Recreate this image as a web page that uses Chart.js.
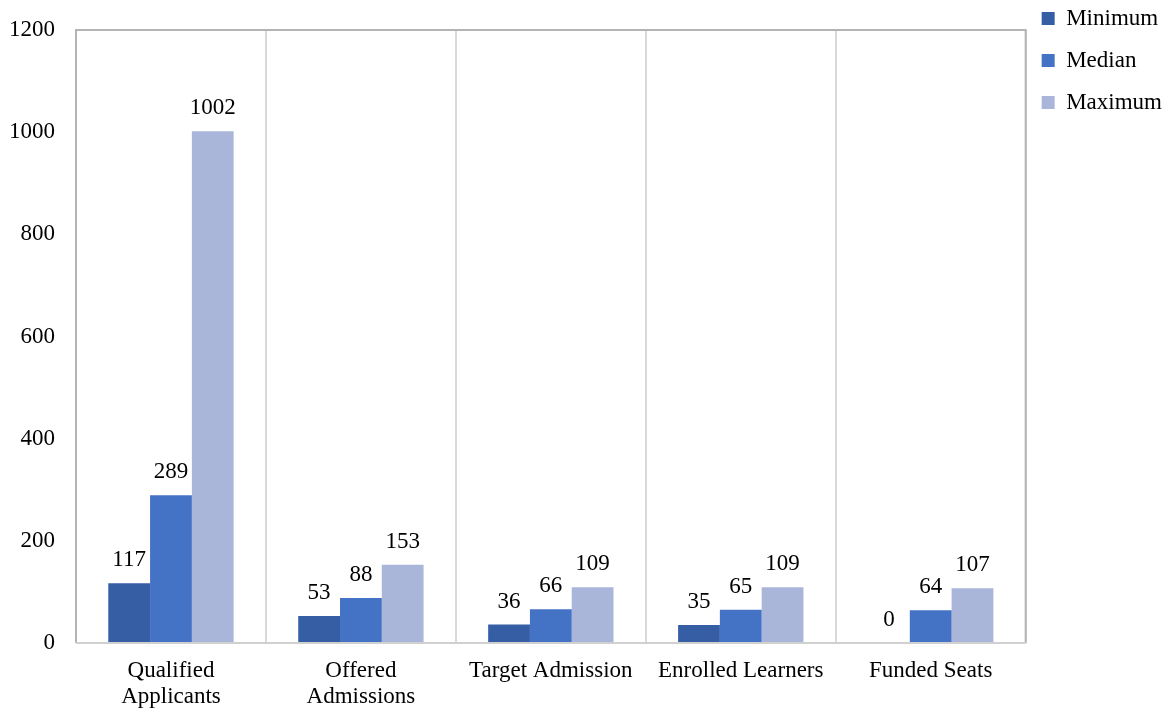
<!DOCTYPE html>
<html lang="en">
<head>
    <meta charset="UTF-8">
    <title>Admissions Summary</title>
    <script src="https://cdn.jsdelivr.net/npm/chart.js"></script>
    <style>
        html, body { margin: 0; padding: 0; background: #fff; }
        #wrap { width: 1166px; height: 712px; }
    </style>
</head>
<body>
    <div id="wrap"><canvas id="admChart"></canvas></div>

    <script>
        const categories = [['Qualified', 'Applicants'], ['Offered', 'Admissions'], 'Target Admission', 'Enrolled Learners', 'Funded Seats'];
        const minimumVals = [117, 53, 36, 35, 0];
        const medianVals = [289, 88, 66, 65, 64];
        const maximumVals = [1002, 153, 109, 109, 107];
        const yTicks = [0, 200, 400, 600, 800, 1000, 1200];

        const serif = '"Liberation Serif", "Times New Roman", serif';

        // value labels above each bar
        const barLabels = {
            id: 'barLabels',
            afterDatasetsDraw(chart) {
                const ctx = chart.ctx;
                ctx.save();
                ctx.font = '23px ' + serif;
                ctx.fillStyle = '#000';
                ctx.textAlign = 'center';
                ctx.textBaseline = 'alphabetic';
                chart.data.datasets.forEach((ds, i) => {
                    chart.getDatasetMeta(i).data.forEach((bar, j) => {
                        ctx.fillText(String(ds.data[j]), bar.x, bar.y - 17);
                    });
                });
                ctx.restore();
            }
        };

        // plot frame + pull legend up to the top corner
        const frame = {
            id: 'frame',
            afterLayout(chart) {
                const lg = chart.legend;
                const h = lg.bottom - lg.top;
                lg.top = -12;
                lg.bottom = lg.top + h;
                lg.left -= 3;
                lg.right -= 3;
            },
            afterDraw(chart) {
                const a = chart.chartArea;
                const ctx = chart.ctx;
                ctx.save();
                ctx.lineWidth = 2;
                ctx.strokeStyle = '#b4b4b4';
                ctx.beginPath();
                ctx.moveTo(a.left, a.bottom);
                ctx.lineTo(a.left, a.top);
                ctx.lineTo(a.right, a.top);
                ctx.lineTo(a.right, a.bottom);
                ctx.stroke();
                ctx.strokeStyle = '#d0d0d0';
                ctx.beginPath();
                ctx.moveTo(a.left, a.bottom);
                ctx.lineTo(a.right, a.bottom);
                ctx.stroke();
                ctx.restore();
            }
        };

        new Chart(document.getElementById('admChart'), {
            type: 'bar',
            data: {
                labels: categories,
                datasets: [
                    { label: 'Minimum', data: minimumVals, backgroundColor: '#365EA5' },
                    { label: 'Median', data: medianVals, backgroundColor: '#4472C4' },
                    { label: 'Maximum', data: maximumVals, backgroundColor: '#A9B6DA' }
                ]
            },
            options: {
                responsive: true,
                maintainAspectRatio: false,
                animation: false,
                categoryPercentage: 0.66,
                barPercentage: 1.0,
                layout: { padding: { top: 30, left: 0, right: -9, bottom: 0 } },
                plugins: {
                    legend: {
                        position: 'right',
                        align: 'start',
                        labels: {
                            font: { family: serif, size: 23 },
                            color: '#000',
                            boxWidth: 13,
                            boxHeight: 13,
                            padding: 19
                        }
                    },
                    tooltip: { enabled: false }
                },
                scales: {
                    x: {
                        afterFit(s) { s.height = 69; s.paddingLeft = 0; s.paddingRight = 0; },
                        grid: { display: true, offset: true, drawTicks: false, color: '#d9d9d9', lineWidth: 2 },
                        border: { display: false },
                        ticks: { font: { family: serif, size: 23, lineHeight: 1.13 }, color: '#000', padding: 15, maxRotation: 0 }
                    },
                    y: {
                        min: 0,
                        max: 1200,
                        afterBuildTicks(axis) { axis.ticks = yTicks.map(v => ({ value: v })); },
                        afterFit(s) { s.width = 76; s.paddingTop = 0; s.paddingBottom = 0; },
                        grid: { display: false, drawTicks: false },
                        border: { display: false },
                        ticks: { font: { family: serif, size: 23 }, color: '#000', padding: 21, callback: v => String(v) }
                    }
                }
            },
            plugins: [barLabels, frame]
        });
    </script>
</body>
</html>
